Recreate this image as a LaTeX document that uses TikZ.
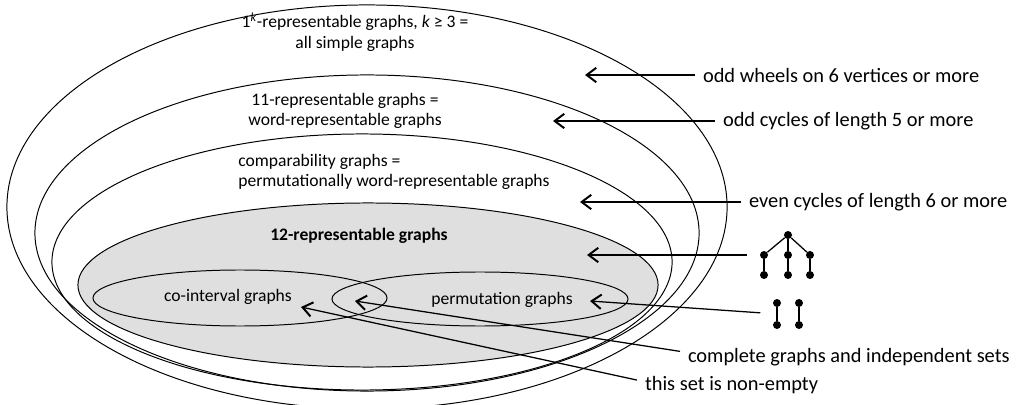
\documentclass[tikz,border=0pt]{standalone}
\usepackage{fontspec}
\setmainfont{Carlito}
\usetikzlibrary{arrows.meta,calc}

\tikzset{
    set/.style={draw, line width=0.7pt},
    lbl/.style={font=\fontsize{12.5}{14.6}\selectfont, inner sep=0pt},
    note/.style={font=\fontsize{14.5}{17}\selectfont, anchor=west, inner xsep=5.5pt, inner ysep=0pt},
    pointer/.style={line width=0.9pt, -{Straight Barb[length=2.4mm, width=3.6mm, line width=1.4pt]}},
    vtx/.style={circle, fill, inner sep=0pt, minimum size=2mm},
    edge/.style={line width=0.9pt}
}

\begin{document}
\begin{tikzpicture}[x=0.025cm, y=-0.025cm]
    \useasboundingbox (0,0) rectangle (1016,405);

    % Nested classes of graphs
    \begin{scope}
        \clip (0,0) rectangle (1016,405);
        \draw[set] (367,207) ellipse [x radius=9cm, y radius=5.05cm];
        \draw[set] (367,233) ellipse [x radius=8.3cm, y radius=3.95cm];
        \draw[set] (362,262) ellipse [x radius=7.75cm, y radius=3.2cm];
        \draw[set, fill=gray!25] (368,285) ellipse [x radius=7.25cm, y radius=2.05cm];
        \draw[set] (240,298) ellipse [x radius=3.675cm, y radius=0.7cm];
        \draw[set] (480,299) ellipse [x radius=3.7cm, y radius=0.675cm];
    \end{scope}

    % Class labels
    \node[lbl, align=center] (simple) at (355,32) {1\textsuperscript{\textit{k}}-representable graphs, \textit{k} ≥ 3 =\\all simple graphs};
    \node[lbl, align=center] (wordrep) at (345,111) {11-representable graphs =\\word-representable graphs};
    \node[lbl, align=left, anchor=west] (compar) at (238,172) {comparability graphs =\\permutationally word-representable graphs};
    \node[lbl, font=\fontsize{12.5}{14.6}\selectfont\bfseries] (twelve) at (359,236) {12-representable graphs};
    \node[lbl] (cointerval) at (228,297) {co-interval graphs};
    \node[lbl] (permut) at (502,300) {permutation graphs};

    % Separating examples
    \node[note] (wheels) at (695,75) {odd wheels on 6 vertices or more};
    \node[note] (oddcyc) at (715,121) {odd cycles of length 5 or more};
    \node[note] (evencyc) at (741,202) {even cycles of length 6 or more};
    \node[note] (complete) at (680,357) {complete graphs and independent sets};
    \node[note] (nonempty) at (637,385) {this set is non-empty};

    % Arrow tips
    \coordinate (wheelsTip) at (585,75);
    \coordinate (oddcycTip) at (553,121);
    \coordinate (evencycTip) at (580,202);
    \coordinate (treeTip) at (587,255);
    \coordinate (pairTip) at (590,301);
    \coordinate (lensTip) at (355,301);
    \coordinate (cointTip) at (301,307);

    % Tree
    \node[vtx] (root) at (788,235) {};
    \foreach \name/\x in {1/764, 2/788, 3/810} {
        \node[vtx] (t\name) at (\x,255) {};
        \node[vtx] (b\name) at (\x,275) {};
        \draw[edge] (root) -- (t\name);
        \draw[edge] (t\name) -- (b\name);
    }

    % Two edges
    \node[vtx] (p1) at (777,303) {};
    \node[vtx] (p2) at (777,325) {};
    \node[vtx] (p3) at (799,303) {};
    \node[vtx] (p4) at (799,325) {};
    \draw[edge] (p1) -- (p2);
    \draw[edge] (p3) -- (p4);

    % Pointers
    \draw[pointer] (wheels) -- (wheelsTip);
    \draw[pointer] (oddcyc) -- (oddcycTip);
    \draw[pointer] (evencyc) -- (evencycTip);
    \draw[pointer, shorten <=3.3mm] (t1) -- (treeTip);
    \draw[pointer, shorten <=4.2mm] ($(p1)!0.5!(p2)$) -- (pairTip);
    \draw[pointer] ([yshift=4pt]complete.west) -- (lensTip);
    \draw[pointer] ([yshift=3.5pt]nonempty.west) -- (cointTip);

\end{tikzpicture}
\end{document}
